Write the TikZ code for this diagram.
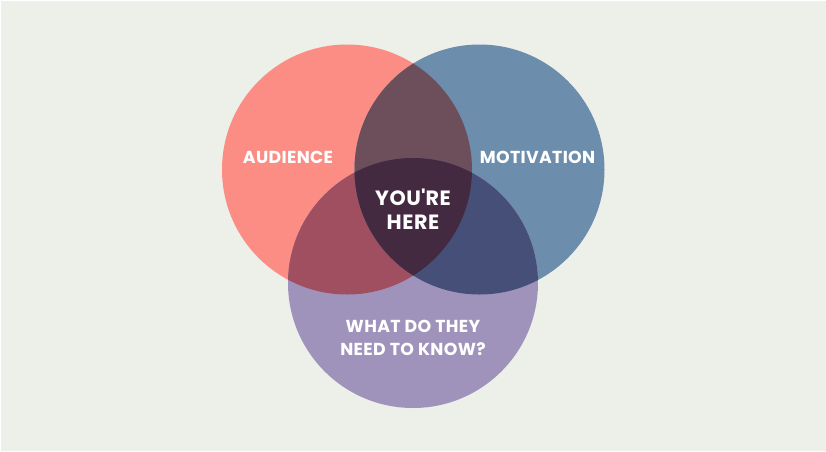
\documentclass[tikz,border=0pt]{standalone}
\usepackage{fontspec}
\setmainfont{Poppins}
\usetikzlibrary{positioning}
\definecolor{bgcol}{HTML}{EDEFE9}
\definecolor{audcol}{HTML}{FB8D85}
\definecolor{motcol}{HTML}{6D8DAC}
\definecolor{knowcol}{HTML}{A093BB}
\definecolor{audmot}{HTML}{6C4F5A}
\definecolor{audknow}{HTML}{9F4F5F}
\definecolor{motknow}{HTML}{454F78}
\definecolor{allthree}{HTML}{432A41}
\def\rad{93.75pt}

\begin{document}
\begin{tikzpicture}[line cap=round,line join=round,x=0.75pt,y=-0.75pt,
  lbl/.style={text=white,font=\bfseries\fontsize{13}{17.3}\selectfont\addfontfeature{LetterSpace=2},align=center},
  biglbl/.style={lbl,font=\bfseries\fontsize{15.5}{18}\selectfont\addfontfeature{LetterSpace=3}}]
\useasboundingbox (0,0) rectangle (826,451);
\fill [bgcol] (0,0) rectangle (826,451);
\draw [white,line width=0.75pt] (0,451)-- (0,0)-- (826,0);
\coordinate (audc) at (347,169.5);
\coordinate (motc) at (479.5,169.5);
\coordinate (knowc) at (413,283);
% the three sets
\fill [audcol] (audc) circle (\rad);
\fill [motcol] (motc) circle (\rad);
\fill [knowcol] (knowc) circle (\rad);
% pairwise overlaps
\begin{scope}
\clip (audc) circle (\rad);
\fill [audmot] (motc) circle (\rad);
\fill [audknow] (knowc) circle (\rad);
\end{scope}
\begin{scope}
\clip (motc) circle (\rad);
\fill [motknow] (knowc) circle (\rad);
\clip (audc) circle (\rad);
\fill [allthree] (knowc) circle (\rad);
\end{scope}
% labels
\node [lbl] (audience) at (288,157) {AUDIENCE};
\node [lbl] (motivation) at (537.5,157) {MOTIVATION};
\node [biglbl] (here) at (413,209) {YOU\textquotesingle RE\\HERE};
\node [lbl] (know) at (413,337.5) {WHAT DO THEY\\NEED TO KNOW?};
\end{tikzpicture}
\end{document}
